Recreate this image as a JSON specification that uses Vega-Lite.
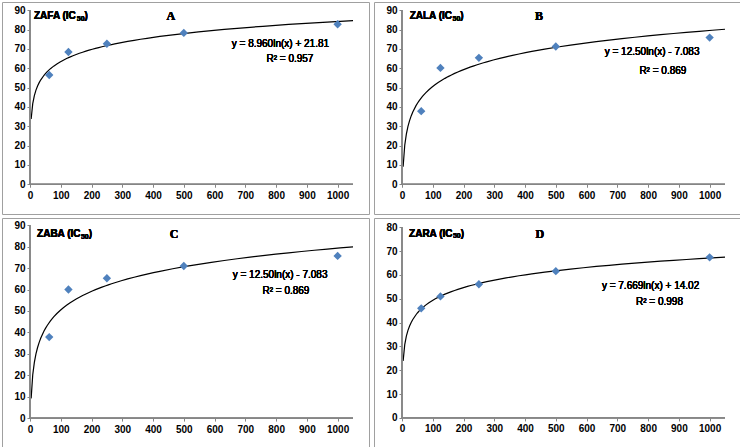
{
  "$schema": "https://vega.github.io/schema/vega-lite/v6.json",
  "background": "white",
  "padding": {"left": 1, "top": 1, "right": 1, "bottom": 1},
  "config": {
    "view": {"stroke": "#A0A0A0", "strokeWidth": 1},
    "axis": {"domain": false, "grid": false, "tickColor": "#868686", "tickSize": 3, "minExtent": 0, "maxExtent": 200, "labelFont": "Liberation Sans", "labelFontSize": 10, "labelFontWeight": "bold", "labelColor": "#000000", "labelBound": false, "labelOverlap": false, "labelSeparation": 0, "format": "d"},
    "axisX": {"labelPadding": 3},
    "axisY": {"labelPadding": 2},
    "text": {"font": "Liberation Sans", "fontSize": 10, "color": "#000000", "baseline": "middle"}
  },
  "vconcat": [
    {
      "hconcat": [
        {
          "width": 367, "height": 212,
          "data": {"values": [{"x": 62.5, "y": 56.5}, {"x": 125, "y": 68.4}, {"x": 250, "y": 72.7}, {"x": 500, "y": 78.3}, {"x": 1000, "y": 82.8}]},
          "encoding": {
            "x": {"field": "x", "type": "quantitative", "scale": {"domain": [-91, 1102], "nice": false}, "axis": {"title": null, "labelOverlap": false, "tickCount": 11, "values": [0,100,200,300,400,500,600,700,800,900,1000], "offset": -29.76}},
            "y": {"field": "y", "type": "quantitative", "scale": {"domain": [-15.4, 94.3], "nice": false}, "axis": {"title": null, "labelOverlap": false, "tickCount": 10, "values": [0,10,20,30,40,50,60,70,80,90], "offset": -28}}
          },
          "layer": [
            {"transform": [{"regression": "y", "on": "x", "method": "log", "extent": [3.7, 1050]}],
             "mark": {"type": "line", "color": "#000000", "strokeWidth": 1.2}},
            {"mark": {"type": "point", "shape": "diamond", "filled": true, "color": "#4F81BD", "size": 70, "opacity": 1}},
            {"mark": {"type": "rule", "color": "#868686"}, "encoding": {"x": {"datum": 0}, "x2": {"datum": 1050}, "y": {"datum": 0}}},
            {"mark": {"type": "rule", "color": "#868686"}, "encoding": {"x": {"datum": 0}, "y": {"datum": 0}, "y2": {"datum": 90}}},
            {"mark": {"type": "text", "text": "ZAFA (IC", "align": "left", "fontWeight": "bold"},
             "encoding": {"x": {"datum": 13}, "y": {"datum": 87}}},
            {"mark": {"type": "text", "text": "50", "align": "left", "fontWeight": "bold", "fontSize": 7, "dx": 42.8, "dy": 2.5},
             "encoding": {"x": {"datum": 13}, "y": {"datum": 87}}},
            {"mark": {"type": "text", "text": ")", "align": "left", "fontWeight": "bold", "dx": 50.6},
             "encoding": {"x": {"datum": 13}, "y": {"datum": 87}}},
            {"mark": {"type": "text", "text": "A", "align": "center", "font": "Liberation Serif", "fontSize": 12, "fontWeight": "bold"},
             "encoding": {"x": {"datum": 458}, "y": {"datum": 87}}},
            {"mark": {"type": "text", "text": "y = 8.960ln(x) + 21.81", "align": "center"},
             "encoding": {"x": {"datum": 814}, "y": {"datum": 72.4}}},
            {"mark": {"type": "text", "text": "R² = 0.957", "align": "center"},
             "encoding": {"x": {"datum": 845}, "y": {"datum": 64.7}}}
          ]
        },
        {
          "width": 367, "height": 212,
          "data": {"values": [{"x": 62.5, "y": 37.8}, {"x": 125, "y": 60.2}, {"x": 250, "y": 65.4}, {"x": 500, "y": 71.3}, {"x": 1000, "y": 75.9}]},
          "encoding": {
            "x": {"field": "x", "type": "quantitative", "scale": {"domain": [-91, 1102], "nice": false}, "axis": {"title": null, "labelOverlap": false, "tickCount": 11, "values": [0,100,200,300,400,500,600,700,800,900,1000], "offset": -29.76}},
            "y": {"field": "y", "type": "quantitative", "scale": {"domain": [-15.4, 94.3], "nice": false}, "axis": {"title": null, "labelOverlap": false, "tickCount": 10, "values": [0,10,20,30,40,50,60,70,80,90], "offset": -28}}
          },
          "layer": [
            {"transform": [{"regression": "y", "on": "x", "method": "log", "extent": [3.7, 1050]}],
             "mark": {"type": "line", "color": "#000000", "strokeWidth": 1.2}},
            {"mark": {"type": "point", "shape": "diamond", "filled": true, "color": "#4F81BD", "size": 70, "opacity": 1}},
            {"mark": {"type": "rule", "color": "#868686"}, "encoding": {"x": {"datum": 0}, "x2": {"datum": 1050}, "y": {"datum": 0}}},
            {"mark": {"type": "rule", "color": "#868686"}, "encoding": {"x": {"datum": 0}, "y": {"datum": 0}, "y2": {"datum": 90}}},
            {"mark": {"type": "text", "text": "ZALA (IC", "align": "left", "fontWeight": "bold"},
             "encoding": {"x": {"datum": 25}, "y": {"datum": 87}}},
            {"mark": {"type": "text", "text": "50", "align": "left", "fontWeight": "bold", "fontSize": 7, "dx": 42.8, "dy": 2.5},
             "encoding": {"x": {"datum": 25}, "y": {"datum": 87}}},
            {"mark": {"type": "text", "text": ")", "align": "left", "fontWeight": "bold", "dx": 50.6},
             "encoding": {"x": {"datum": 25}, "y": {"datum": 87}}},
            {"mark": {"type": "text", "text": "B", "align": "center", "font": "Liberation Serif", "fontSize": 12, "fontWeight": "bold"},
             "encoding": {"x": {"datum": 445}, "y": {"datum": 87}}},
            {"mark": {"type": "text", "text": "y = 12.50ln(x) - 7.083", "align": "center"},
             "encoding": {"x": {"datum": 813}, "y": {"datum": 68.6}}},
            {"mark": {"type": "text", "text": "R² = 0.869", "align": "center"},
             "encoding": {"x": {"datum": 848}, "y": {"datum": 58.6}}}
          ]
        }
      ],
      "spacing": 3
    },
    {
      "hconcat": [
        {
          "width": 367, "height": 229,
          "data": {"values": [{"x": 62.5, "y": 37.8}, {"x": 125, "y": 60.0}, {"x": 250, "y": 65.3}, {"x": 500, "y": 71.0}, {"x": 1000, "y": 75.7}]},
          "encoding": {
            "x": {"field": "x", "type": "quantitative", "scale": {"domain": [-91, 1102], "nice": false}, "axis": {"title": null, "labelOverlap": false, "tickCount": 11, "values": [0,100,200,300,400,500,600,700,800,900,1000], "offset": -28.9}},
            "y": {"field": "y", "type": "quantitative", "scale": {"domain": [-13.5, 93.4], "nice": false}, "axis": {"title": null, "labelOverlap": false, "tickCount": 10, "values": [0,10,20,30,40,50,60,70,80,90], "offset": -28}}
          },
          "layer": [
            {"transform": [{"regression": "y", "on": "x", "method": "log", "extent": [3.7, 1050]}],
             "mark": {"type": "line", "color": "#000000", "strokeWidth": 1.2}},
            {"mark": {"type": "point", "shape": "diamond", "filled": true, "color": "#4F81BD", "size": 70, "opacity": 1}},
            {"mark": {"type": "rule", "color": "#868686"}, "encoding": {"x": {"datum": 0}, "x2": {"datum": 1050}, "y": {"datum": 0}}},
            {"mark": {"type": "rule", "color": "#868686"}, "encoding": {"x": {"datum": 0}, "y": {"datum": 0}, "y2": {"datum": 90}}},
            {"mark": {"type": "text", "text": "ZABA (IC", "align": "left", "fontWeight": "bold"},
             "encoding": {"x": {"datum": 23}, "y": {"datum": 85.9}}},
            {"mark": {"type": "text", "text": "50", "align": "left", "fontWeight": "bold", "fontSize": 7, "dx": 43.9, "dy": 2.5},
             "encoding": {"x": {"datum": 23}, "y": {"datum": 85.9}}},
            {"mark": {"type": "text", "text": ")", "align": "left", "fontWeight": "bold", "dx": 51.7},
             "encoding": {"x": {"datum": 23}, "y": {"datum": 85.9}}},
            {"mark": {"type": "text", "text": "C", "align": "center", "font": "Liberation Serif", "fontSize": 12, "fontWeight": "bold"},
             "encoding": {"x": {"datum": 468}, "y": {"datum": 85.9}}},
            {"mark": {"type": "text", "text": "y = 12.50ln(x) - 7.083", "align": "center"},
             "encoding": {"x": {"datum": 813}, "y": {"datum": 66.7}}},
            {"mark": {"type": "text", "text": "R² = 0.869", "align": "center"},
             "encoding": {"x": {"datum": 832}, "y": {"datum": 59.5}}}
          ]
        },
        {
          "width": 367, "height": 229,
          "data": {"values": [{"x": 62.5, "y": 46.0}, {"x": 125, "y": 51.0}, {"x": 250, "y": 56.1}, {"x": 500, "y": 61.6}, {"x": 1000, "y": 67.4}]},
          "encoding": {
            "x": {"field": "x", "type": "quantitative", "scale": {"domain": [-91, 1102], "nice": false}, "axis": {"title": null, "labelOverlap": false, "tickCount": 11, "values": [0,100,200,300,400,500,600,700,800,900,1000], "offset": -29.07}},
            "y": {"field": "y", "type": "quantitative", "scale": {"domain": [-12.2, 83.9], "nice": false}, "axis": {"title": null, "labelOverlap": false, "tickCount": 9, "values": [0,10,20,30,40,50,60,70,80], "offset": -28}}
          },
          "layer": [
            {"transform": [{"regression": "y", "on": "x", "method": "log", "extent": [3.7, 1050]}],
             "mark": {"type": "line", "color": "#000000", "strokeWidth": 1.2}},
            {"mark": {"type": "point", "shape": "diamond", "filled": true, "color": "#4F81BD", "size": 70, "opacity": 1}},
            {"mark": {"type": "rule", "color": "#868686"}, "encoding": {"x": {"datum": 0}, "x2": {"datum": 1050}, "y": {"datum": 0}}},
            {"mark": {"type": "rule", "color": "#868686"}, "encoding": {"x": {"datum": 0}, "y": {"datum": 0}, "y2": {"datum": 80}}},
            {"mark": {"type": "text", "text": "ZARA (IC", "align": "left", "fontWeight": "bold"},
             "encoding": {"x": {"datum": 23}, "y": {"datum": 77.2}}},
            {"mark": {"type": "text", "text": "50", "align": "left", "fontWeight": "bold", "fontSize": 7, "dx": 43.9, "dy": 2.5},
             "encoding": {"x": {"datum": 23}, "y": {"datum": 77.2}}},
            {"mark": {"type": "text", "text": ")", "align": "left", "fontWeight": "bold", "dx": 51.7},
             "encoding": {"x": {"datum": 23}, "y": {"datum": 77.2}}},
            {"mark": {"type": "text", "text": "D", "align": "center", "font": "Liberation Serif", "fontSize": 12, "fontWeight": "bold"},
             "encoding": {"x": {"datum": 448}, "y": {"datum": 77.2}}},
            {"mark": {"type": "text", "text": "y = 7.669ln(x) + 14.02", "align": "center"},
             "encoding": {"x": {"datum": 808}, "y": {"datum": 55.3}}},
            {"mark": {"type": "text", "text": "R² = 0.998", "align": "center"},
             "encoding": {"x": {"datum": 837}, "y": {"datum": 48.7}}}
          ]
        }
      ],
      "spacing": 3
    }
  ],
  "spacing": 2
}
